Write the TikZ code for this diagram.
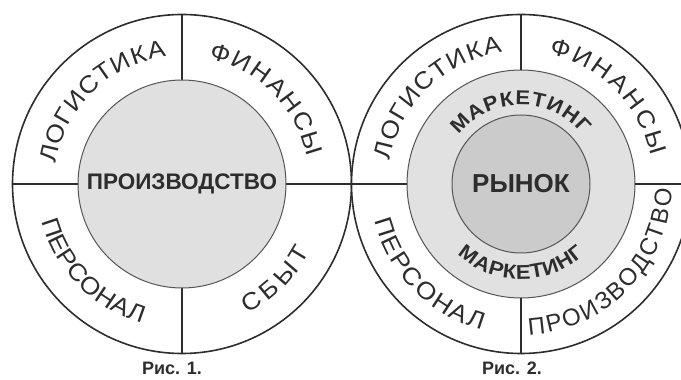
\documentclass[tikz,border=0pt]{standalone}
\usepackage{fontspec}
\setmainfont{Liberation Sans}
\newfontfamily\widefam[FakeStretch=1.1]{Liberation Sans}
\usetikzlibrary{decorations.text}
\definecolor{inkgray}{RGB}{45,45,45}
\definecolor{edgegray}{RGB}{85,85,85}
\definecolor{corefill}{RGB}{224,224,224}
\definecolor{mktfill}{RGB}{225,225,225}
\definecolor{mktcore}{RGB}{203,203,203}
\newcommand{\ringfont}{\color{inkgray}\widefam\fontsize{24}{24}\selectfont}
\newcommand{\narrowfont}{\color{inkgray}\fontsize{24}{24}\selectfont}
\newcommand{\mktfont}{\color{inkgray}\widefam\bfseries\fontsize{20}{20}\selectfont}
\tikzset{
  outer/.style={circle, draw=inkgray, line width=1.6pt, fill=white,
                minimum size=339pt, inner sep=0pt, outer sep=0pt},
  core/.style={circle, draw=edgegray, line width=1pt, fill=corefill,
               inner sep=0pt, outer sep=0pt, text=inkgray,
               font=\bfseries\fontsize{22.5}{22.5}\selectfont},
  spoke/.style={draw=inkgray, line width=1.2pt},
  oplabel/.style={decorate, decoration={text along path,
                  text={|\ringfont|#1}, text align=fit to path}},
  narrowlabel/.style={decorate, decoration={text along path,
                  text={|\narrowfont|#1}, text align=fit to path}},
  mktlabel/.style={decorate, decoration={text along path,
                   text={|\mktfont|#1}, text align=fit to path}},
  caption/.style={anchor=base, text=inkgray,
                  font=\bfseries\fontsize{18}{18}\selectfont},
}
\begin{document}
\begin{tikzpicture}[x=1pt, y=1pt]
  \clip (0,0) rectangle (681,380);

  % Рис. 1
  \node[outer] (ringL) at (182,196) {};
  \draw[spoke] (ringL.north) -- (ringL.south);
  \draw[spoke] (ringL.west) -- (ringL.east);
  \node[core, minimum size=208pt] (coreL) at (ringL.center) {ПРОИЗВОДСТВО};

  \path[oplabel=ЛОГИСТИКА] (ringL.center) ++(171:128) arc[start angle=171, end angle=97, radius=128];
  \path[oplabel=ФИНАНСЫ]   (ringL.center) ++(78:128)  arc[start angle=78, end angle=12, radius=128];
  \path[oplabel=ПЕРСОНАЛ]  (ringL.center) ++(195:145) arc[start angle=195, end angle=254, radius=145];
  \path[oplabel=СБЫТ]      (ringL.center) ++(297:145) arc[start angle=297, end angle=332, radius=145];

  \node[caption] (capL) at (172,5) {Рис. 1.};

  % Рис. 2
  \node[outer] (ringR) at (521,196) {};
  \node[core, fill=mktfill, minimum size=228pt] (mktR) at (ringR.center) {};
  \draw[spoke] (ringR.north) -- (mktR.north);
  \draw[spoke] (ringR.south) -- (mktR.south);
  \draw[spoke] (ringR.west)  -- (mktR.west);
  \draw[spoke] (ringR.east)  -- (mktR.east);
  \node[core, fill=mktcore, minimum size=138pt,
        font=\bfseries\fontsize{26}{26}\selectfont] (rynok) at (ringR.center) {РЫНОК};

  \path[oplabel=ЛОГИСТИКА]        (ringR.center) ++(170:133) arc[start angle=170, end angle=98, radius=133];
  \path[oplabel=ФИНАНСЫ]          (ringR.center) ++(78:133)  arc[start angle=78, end angle=12, radius=133];
  \path[oplabel=ПЕРСОНАЛ]         (ringR.center) ++(194:151) arc[start angle=194, end angle=255, radius=151];
  \path[narrowlabel=ПРОИЗВОДСТВО] (ringR.center) ++(273:151) arc[start angle=273, end angle=358, radius=151];
  \path[mktlabel=МАРКЕТИНГ]       (ringR.center) ++(142:79)  arc[start angle=142, end angle=39, radius=79];
  \path[mktlabel=МАРКЕТИНГ]       (ringR.center) ++(228:95)  arc[start angle=228, end angle=312, radius=95];

  \node[caption] (capR) at (512,5) {Рис. 2.};
\end{tikzpicture}
\end{document}
